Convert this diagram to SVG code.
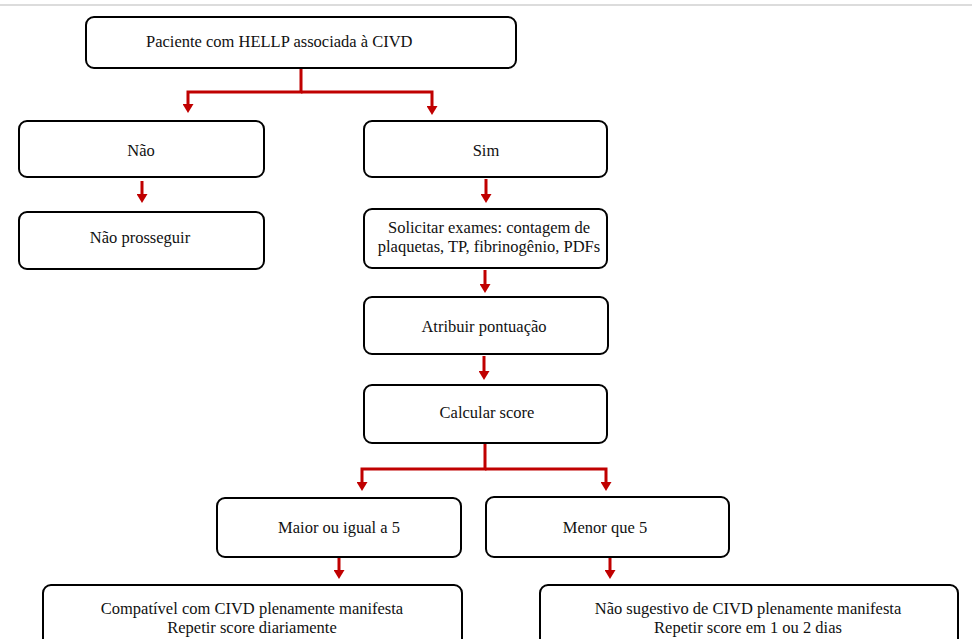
<svg xmlns="http://www.w3.org/2000/svg" width="972" height="639" viewBox="0 0 972 639">
<style>
.box{fill:#fff;stroke:#000;stroke-width:2}
.t{font-family:"Liberation Serif","Times New Roman",serif;font-size:16.5px;fill:#111;text-anchor:middle}
.c{fill:none;stroke:#c00000;stroke-width:3;stroke-linejoin:miter}
</style>
<defs>
<marker id="ah" viewBox="0 0 9 11" refX="3" refY="5.5" markerWidth="9" markerHeight="11" markerUnits="userSpaceOnUse" orient="auto">
<path d="M0,0 L9,5.5 L0,11 z" fill="#c00000"/>
</marker>
</defs>
<rect width="972" height="639" fill="#fff"/>
<line x1="0" y1="5" x2="972" y2="5" stroke="#d0d0d0" stroke-width="1.5"/>

<g id="connectors">
<path class="c" d="M301,68 V92 H188 V107" marker-end="url(#ah)"/>
<path class="c" d="M301,92 H432 V109" marker-end="url(#ah)"/>
<path class="c" d="M142,181 V197" marker-end="url(#ah)"/>
<path class="c" d="M486,179 V197" marker-end="url(#ah)"/>
<path class="c" d="M485,270 V287" marker-end="url(#ah)"/>
<path class="c" d="M484,356 V374" marker-end="url(#ah)"/>
<path class="c" d="M485,443 V469 H362 V485" marker-end="url(#ah)"/>
<path class="c" d="M485,469 H606 V485" marker-end="url(#ah)"/>
<path class="c" d="M339,558 V573" marker-end="url(#ah)"/>
<path class="c" d="M610,558 V573" marker-end="url(#ah)"/>
</g>

<g id="n-paciente">
<rect class="box" x="86" y="17" width="430" height="51" rx="8"/>
<text class="t" x="146" y="47" style="text-anchor:start">Paciente com HELLP associada à CIVD</text>
</g>
<g id="n-nao">
<rect class="box" x="19" y="121" width="245" height="56" rx="8"/>
<text class="t" x="141" y="156">Não</text>
</g>
<g id="n-sim">
<rect class="box" x="364" y="121" width="243" height="56" rx="8"/>
<text class="t" x="486" y="156">Sim</text>
</g>
<g id="n-naoprosseguir">
<rect class="box" x="19" y="212" width="245" height="57" rx="8"/>
<text class="t" x="140" y="243">Não prosseguir</text>
</g>
<g id="n-solicitar">
<rect class="box" x="364" y="209" width="243" height="59" rx="8"/>
<text class="t" x="489" y="233">Solicitar exames: contagem de</text>
<text class="t" x="489" y="252">plaquetas, TP, fibrinogênio, PDFs</text>
</g>
<g id="n-atribuir">
<rect class="box" x="364" y="297" width="244" height="57" rx="8"/>
<text class="t" x="484" y="332">Atribuir pontuação</text>
</g>
<g id="n-calcular">
<rect class="box" x="364" y="385" width="243" height="58" rx="8"/>
<text class="t" x="487" y="418">Calcular score</text>
</g>
<g id="n-maior">
<rect class="box" x="217" y="498" width="244" height="59" rx="8"/>
<text class="t" x="339" y="533">Maior ou igual a 5</text>
</g>
<g id="n-menor">
<rect class="box" x="486" y="497" width="243" height="60" rx="8"/>
<text class="t" x="605" y="533">Menor que 5</text>
</g>
<g id="n-compativel">
<rect class="box" x="43" y="585" width="419" height="70" rx="8"/>
<text class="t" x="252" y="614">Compatível com CIVD plenamente manifesta</text>
<text class="t" x="252" y="633">Repetir score diariamente</text>
</g>
<g id="n-naosugestivo">
<rect class="box" x="540" y="585" width="418" height="70" rx="8"/>
<text class="t" x="748" y="614">Não sugestivo de CIVD plenamente manifesta</text>
<text class="t" x="748" y="633">Repetir score em 1 ou 2 dias</text>
</g>
</svg>
